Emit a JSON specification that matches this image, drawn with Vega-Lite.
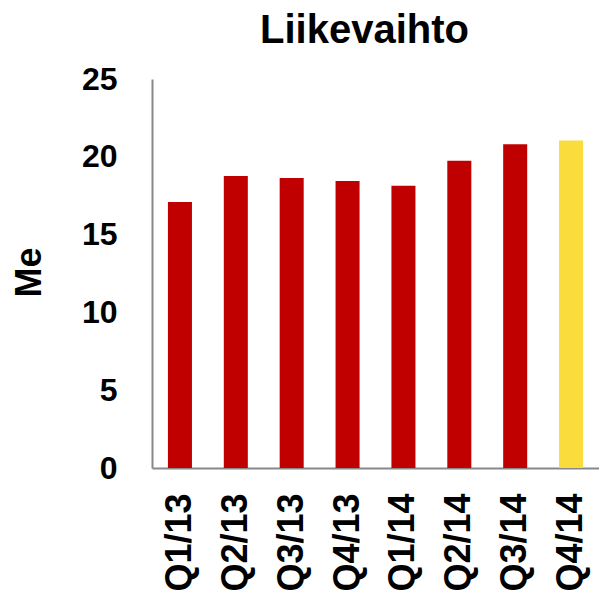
{
  "$schema": "https://vega.github.io/schema/vega-lite/v6.json",
  "autosize": "none",
  "width": 447,
  "height": 389,
  "padding": {"left": 152, "top": 79, "right": 0, "bottom": 124},
  "background": "white",
  "config": {"view": {"stroke": null}, "font": "Liberation Sans"},
  "title": {"text": "Liikevaihto", "fontSize": 40, "fontWeight": "bold", "font": "Liberation Sans", "color": "black", "anchor": "middle", "dx": -11, "offset": 12},
  "data": {"values": [
    {"q": "Q1/13", "v": 17.1, "c": "a"},
    {"q": "Q2/13", "v": 18.77, "c": "a"},
    {"q": "Q3/13", "v": 18.64, "c": "a"},
    {"q": "Q4/13", "v": 18.45, "c": "a"},
    {"q": "Q1/14", "v": 18.14, "c": "a"},
    {"q": "Q2/14", "v": 19.75, "c": "a"},
    {"q": "Q3/14", "v": 20.8, "c": "a"},
    {"q": "Q4/14", "v": 21.04, "c": "b"}
  ]},
  "mark": {"type": "bar"},
  "encoding": {
    "x": {"field": "q", "type": "nominal", "sort": null,
      "scale": {"paddingInner": 0.57, "paddingOuter": 0.285},
      "axis": {"title": null, "labelAngle": -90, "labelAlign": "right", "labelBaseline": "middle", "labelFontSize": 36, "labelFontWeight": "bold", "labelColor": "black", "labelPadding": 25, "ticks": false, "domainColor": "#888888", "domainWidth": 2}},
    "y": {"field": "v", "type": "quantitative",
      "scale": {"domain": [0, 25], "nice": false},
      "axis": {"values": [0, 5, 10, 15, 20, 25], "grid": false, "ticks": false, "labelFontSize": 32, "labelFontWeight": "bold", "labelColor": "black", "labelPadding": 35, "domainColor": "#888888", "domainWidth": 2,
        "title": "Me", "titleFontSize": 36, "titleFontWeight": "bold", "titleColor": "black", "titleX": -123, "titleY": 193, "titleAngle": -90, "titleAlign": "center", "titleBaseline": "middle"}},
    "color": {"field": "c", "type": "nominal", "scale": {"domain": ["a", "b"], "range": ["#C00000", "#FADC3C"]}, "legend": null}
  }
}
